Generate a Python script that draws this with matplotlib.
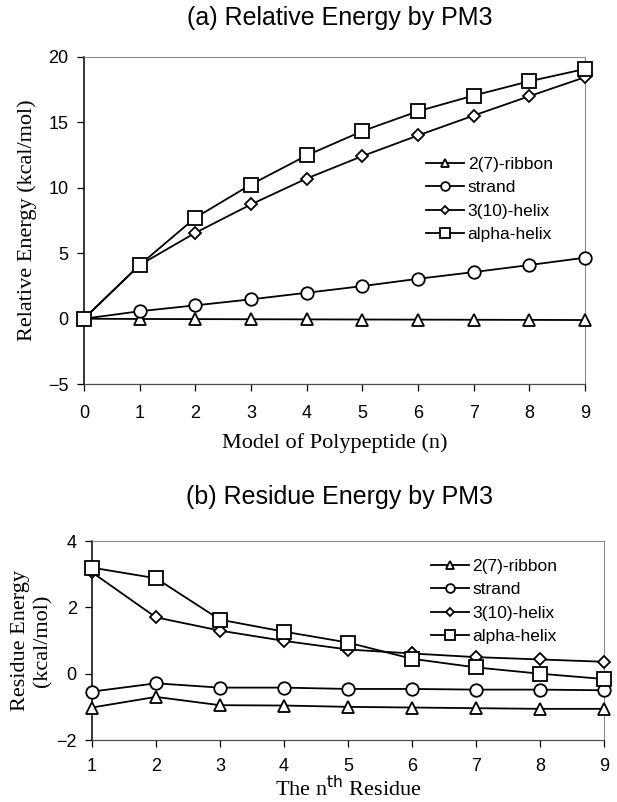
import numpy as np
import matplotlib
matplotlib.use("Agg")
import matplotlib.pyplot as plt

SERIES = ["2(7)-ribbon", "strand", "3(10)-helix", "alpha-helix"]
MARKERS = ["^", "o", "D", "s"]
MSIZES = [9, 9, 6, 10]

# (a) relative energy vs model size n
n_model = [0, 1, 2, 3, 4, 5, 6, 7, 8, 9]
rel_ribbon = [0.0, -0.02, -0.03, -0.04, -0.05, -0.06, -0.07, -0.08, -0.09, -0.1]
rel_strand = [0.0, 0.57, 1.02, 1.48, 1.98, 2.49, 3.05, 3.56, 4.1, 4.66]
rel_310 = [0.0, 4.1, 6.56, 8.73, 10.71, 12.42, 14.0, 15.52, 17.0, 18.45]
rel_alpha = [0.0, 4.1, 7.71, 10.25, 12.47, 14.33, 15.85, 17.05, 18.14, 19.08]

# (b) residue energy vs residue index
n_res = [1, 2, 3, 4, 5, 6, 7, 8, 9]
res_ribbon = [-1.02, -0.7, -0.95, -0.96, -1.0, -1.02, -1.04, -1.06, -1.06]
res_strand = [-0.54, -0.29, -0.42, -0.42, -0.46, -0.46, -0.48, -0.48, -0.5]
res_310 = [3.06, 1.7, 1.3, 0.99, 0.73, 0.61, 0.5, 0.43, 0.36]
res_alpha = [3.2, 2.88, 1.63, 1.27, 0.94, 0.45, 0.19, 0.0, -0.16]

SANS = ["Liberation Sans", "DejaVu Sans"]
SERIF = ["Liberation Serif", "DejaVu Serif"]


def style_axes(ax, xpad=10):
    ax.spines["left"].set_color("black")
    ax.spines["left"].set_linewidth(1.1)
    for side in ["top", "right"]:
        ax.spines[side].set_color("0.55")
        ax.spines[side].set_linewidth(0.8)
    ax.spines["bottom"].set_color("0.3")
    ax.spines["bottom"].set_linewidth(0.9)
    ax.tick_params(direction="out", length=5, width=0.9, labelsize=13)
    ax.tick_params(axis="x", pad=xpad)
    ax.tick_params(axis="y", pad=6)
    for lab in ax.get_xticklabels() + ax.get_yticklabels():
        lab.set_family(SANS)


def draw(ax, x, ys):
    for y, name, m, ms in zip(ys, SERIES, MARKERS, MSIZES):
        ax.plot(x, y, color="black", linewidth=1.3, marker=m, markersize=ms,
                markerfacecolor="white", markeredgecolor="black",
                markeredgewidth=1.3, label=name, clip_on=False, zorder=3)


def add_legend(ax, anchor):
    ax.legend(loc="upper left", bbox_to_anchor=anchor, frameon=False,
              prop={"family": SANS, "size": 12.5}, handlelength=2.2,
              handletextpad=0.2, labelspacing=0.47, borderaxespad=0,
              markerscale=0.7)


fig = plt.figure(figsize=(6.17, 8.02), dpi=100)

ax1 = fig.add_axes([0.136, 0.521, 0.812, 0.408])
draw(ax1, n_model, [rel_ribbon, rel_strand, rel_310, rel_alpha])
ax1.set_xlim(0, 9)
ax1.set_ylim(-5, 20)
ax1.set_xticks(range(0, 10))
ax1.set_yticks([-5, 0, 5, 10, 15, 20])
style_axes(ax1)
ax1.set_xlabel("Model of Polypeptide (n)", family=SERIF, fontsize=16, labelpad=8)
ax1.set_ylabel("Relative Energy (kcal/mol)", family=SERIF, fontsize=16, labelpad=8)
fig.text(0.55, 0.977, "(a) Relative Energy by PM3", ha="center", va="center",
         family=SANS, fontsize=18)
add_legend(ax1, (0.669, 0.716))

ax2 = fig.add_axes([0.149, 0.0773, 0.830, 0.248])
draw(ax2, n_res, [res_ribbon, res_strand, res_310, res_alpha])
ax2.set_xlim(1, 9)
ax2.set_ylim(-2, 4)
ax2.set_xticks(range(1, 10))
ax2.set_yticks([-2, 0, 2, 4])
style_axes(ax2, xpad=8)
ax2.set_xlabel("The n$^{\\mathrm{th}}$ Residue", family=SERIF, fontsize=16, labelpad=1)
ax2.set_ylabel("Residue Energy\n(kcal/mol)", family=SERIF, fontsize=16, labelpad=3)
fig.text(0.55, 0.380, "(b) Residue Energy by PM3", ha="center", va="center",
         family=SANS, fontsize=18)
add_legend(ax2, (0.648, 0.945))

fig.savefig("out.png", dpi=100)
